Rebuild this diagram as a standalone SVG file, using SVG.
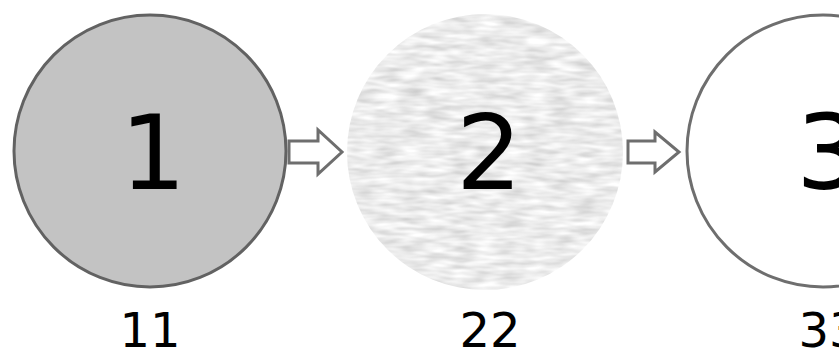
<svg xmlns="http://www.w3.org/2000/svg" width="839" height="356" viewBox="0 0 839 356">
  <style>
    .num { font-family: "DejaVu Sans", "Liberation Sans", sans-serif; fill: #000; text-anchor: middle; }
    .big { font-size: 104px; }
    .lbl { font-size: 48px; }
    .arrow { fill: #ffffff; stroke: #6e6e6e; stroke-width: 3; stroke-linejoin: miter; }
  </style>
  <defs>
    <filter id="tex" x="0" y="0" width="100%" height="100%">
      <feTurbulence type="fractalNoise" baseFrequency="0.04 0.18" numOctaves="2" seed="3" result="n"/>
      <feColorMatrix in="n" type="matrix" values="0.55 0 0 0 0.56  0.55 0 0 0 0.56  0.55 0 0 0 0.56  0 0 0 0 1" result="g"/>
      <feComposite in="g" in2="SourceGraphic" operator="in"/>
    </filter>
  </defs>
  <rect width="839" height="356" fill="#ffffff"/>
  <g id="connectors">
    <path class="arrow" d="M289,141 H318 V130 L342,152 L318,174 V163 H289 Z"/>
    <path class="arrow" d="M628,141 H655 V132 L679,152 L655,172 V163 H628 Z"/>
  </g>
  <g id="node1">
    <circle cx="150" cy="151" r="136" fill="#c3c3c3" stroke="#626262" stroke-width="3"/>
    <text class="num big" x="153" y="189">1</text>
    <text class="num lbl" x="150" y="347">11</text>
  </g>
  <g id="node2">
    <circle cx="485" cy="152" r="138" fill="#d6d6d6" filter="url(#tex)"/>
    <text class="num big" x="489" y="189">2</text>
    <text class="num lbl" x="490" y="347">22</text>
  </g>
  <g id="node3">
    <circle cx="823" cy="151" r="136" fill="#ffffff" stroke="#6e6e6e" stroke-width="3"/>
    <text class="num big" x="829" y="189">3</text>
    <text class="num lbl" x="829" y="347">33</text>
  </g>
</svg>
